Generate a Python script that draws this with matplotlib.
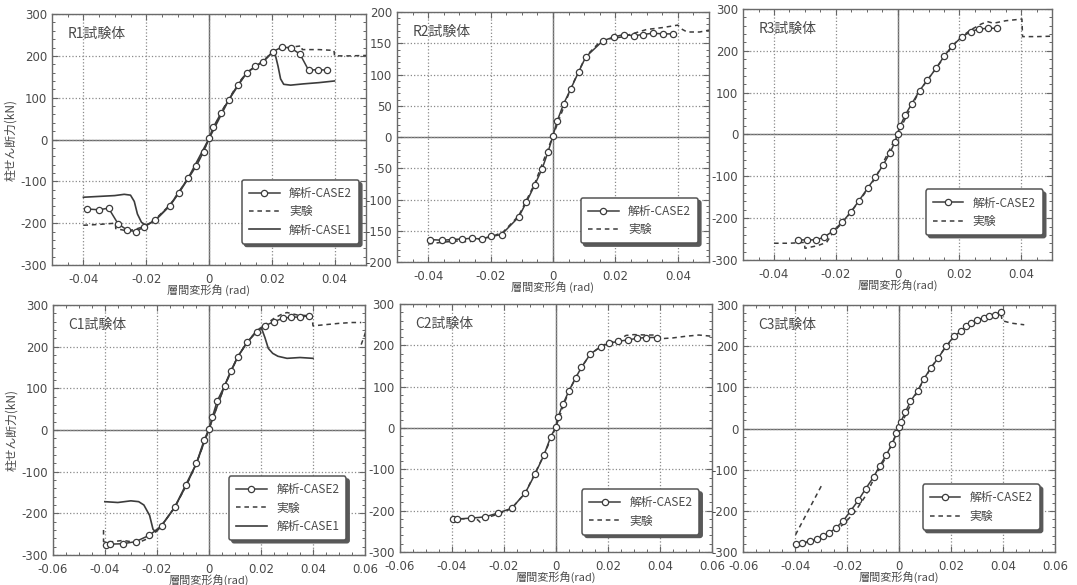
import numpy as np
import matplotlib.pyplot as plt
from matplotlib.ticker import MultipleLocator, FuncFormatter

plt.rcParams['font.family'] = ['DejaVu Sans', 'Noto Sans CJK JP']
plt.rcParams['axes.unicode_minus'] = False

JP = ['Noto Sans CJK JP', 'DejaVu Sans']
LINE_C = '#3c3c3c'
TEXT_C = '#4a4a4a'

nan = np.nan

# R1
r1_case2_x = [-0.039, -0.035, -0.032, -0.029, -0.026, -0.0233, -0.0207, -0.0171, -0.0124, -0.0096,
              -0.0066, -0.0041, -0.0017, 0.0, 0.0014, 0.0039, 0.0063, 0.0091, 0.012, 0.0148, 0.0173,
              0.0203, 0.0232, 0.0261, 0.029, 0.0317, 0.0347, 0.0376]
r1_case2_y = [-166, -168, -164, -201, -217, -220, -209, -193, -158, -128,
              -93, -64, -29, 3, 30, 64, 95, 130, 159, 176, 186,
              210, 221, 219, 204, 166, 167, 166]
r1_exp_x = [-0.040, -0.035, -0.0298, -0.0297, -0.027, -0.024, -0.022, -0.020, -0.017, -0.0124, -0.0096,
            -0.0066, -0.0041, -0.0017, 0.0, 0.0039, 0.0091, 0.012, 0.0173, 0.020, 0.023, 0.0295,
            0.0297, 0.035, 0.0398, 0.040, 0.045, 0.050]
r1_exp_y = [-205, -203, -200, -213, -217, -216, -211, -205, -190, -156, -126,
            -91, -62, -27, 3, 66, 132, 160, 188, 208, 218, 224,
            215, 215, 213, 200, 200, 201]
r1_case1_x = [-0.040, -0.035, -0.030, -0.027, -0.025, -0.0238, -0.0228, -0.0215, -0.020, -0.017, -0.0124,
              -0.0066, 0.0, 0.0063, 0.012, 0.0173, 0.0203, 0.0212, 0.022, 0.0228, 0.0238, 0.026,
              0.030, 0.035, 0.040]
r1_case1_y = [-138, -136, -134, -131, -133, -148, -178, -198, -205, -192, -157,
              -92, 2, 95, 160, 187, 209, 200, 175, 145, 132, 130,
              133, 136, 140]

# R2
r2_case2_x = [-0.0395, -0.0355, -0.0325, -0.0291, -0.0261, -0.0229, -0.0199, -0.0165, -0.011, -0.0085,
              -0.0059, -0.0035, -0.0016, 0.0, 0.0013, 0.0034, 0.0057, 0.0082, 0.0105, 0.016, 0.0195,
              0.0227, 0.0259, 0.0288, 0.032, 0.0354, 0.0384]
r2_case2_y = [-164, -165, -164, -163, -162, -163, -159, -156, -128, -104,
              -77, -51, -24, 2, 25, 53, 77, 104, 128, 154, 160,
              164, 162, 164, 166, 165, 165]
r2_exp_x = [-0.040, -0.035, -0.030, -0.027, -0.024, -0.020, -0.016, -0.011, -0.0059, 0.0, 0.0057,
            0.0105, 0.015, 0.018, 0.022, 0.026, 0.030, 0.035, 0.040, 0.0415, 0.043, 0.047, 0.050]
r2_exp_y = [-171, -168, -166, -168, -163, -160, -152, -126, -75, 2, 78,
            129, 152, 157, 160, 166, 172, 175, 179, 172, 168, 168, 171]

# R3
r3_case2_x = [-0.0324, -0.0293, -0.0265, -0.0239, -0.0208, -0.018, -0.0152, -0.0125, -0.0097, -0.0072,
              -0.0048, -0.0025, -0.0009, 0.0, 0.0008, 0.0024, 0.0046, 0.0071, 0.0096, 0.0124, 0.0151,
              0.0177, 0.0207, 0.0236, 0.0262, 0.0292, 0.032]
r3_case2_y = [-252, -252, -252, -246, -230, -210, -186, -158, -128, -102,
              -74, -44, -18, 2, 20, 46, 74, 105, 130, 158, 188,
              212, 233, 246, 252, 254, 254]
r3_exp_x = [-0.040, -0.035, -0.0302, -0.030, -0.026, -0.023, -0.021, -0.018, -0.0125, -0.0072, 0.0,
            0.0071, 0.0124, 0.0177, 0.0207, 0.0236, 0.027, 0.029, 0.031, 0.035, 0.0402, 0.0404,
            0.045, 0.050]
r3_exp_y = [-260, -260, -258, -272, -266, -258, -235, -212, -160, -104, 2,
            105, 158, 212, 234, 250, 264, 270, 266, 272, 276, 234,
            234, 235]

# C1
c1_case2_x = [-0.0395, -0.0382, -0.0331, -0.0282, -0.023, -0.0182, -0.0132, -0.0087, -0.0048, -0.0019,
              0.0, 0.0013, 0.0032, 0.006, 0.0084, 0.011, 0.0147, 0.0183, 0.0214, 0.025, 0.0283,
              0.0316, 0.0348, 0.0383]
c1_case2_y = [-275, -274, -273, -268, -253, -230, -186, -133, -80, -25,
              2, 31, 70, 106, 142, 175, 211, 236, 250, 260, 268,
              271, 271, 274]
c1_exp_x = [-0.0405, -0.0405, -0.037, -0.033, -0.030, -0.027, -0.024, -0.021, -0.018, -0.0132, -0.0087,
            -0.0048, 0.0, 0.006, 0.011, 0.0147, 0.0183, 0.0214, 0.025, 0.028, 0.030, 0.034,
            0.0395, 0.040, 0.045, 0.050, 0.055, 0.0585, nan, 0.0585, 0.0605]
c1_exp_y = [-240, -268, -268, -265, -268, -270, -262, -245, -228, -186, -133,
            -80, 2, 106, 175, 211, 238, 252, 268, 278, 282, 276,
            274, 250, 253, 256, 258, 258, nan, 205, 240]
c1_case1_x = [-0.040, -0.035, -0.030, -0.027, -0.025, -0.0228, -0.0215, -0.0205, -0.019, -0.0132,
              -0.0048, 0.0, 0.006, 0.011, 0.0147, 0.0183, 0.0201, 0.0215, 0.0228, 0.0245, 0.0265,
              0.030, 0.035, 0.040]
c1_case1_y = [-172, -174, -170, -172, -180, -205, -238, -245, -236, -186,
              -80, 2, 106, 175, 211, 236, 246, 222, 196, 184, 177,
              172, 174, 172]

# C2
c2_case2_x = [-0.0395, -0.0378, -0.0324, -0.0272, -0.0223, -0.0169, -0.0117, -0.0079, -0.0045, -0.0019,
              0.0, 0.0009, 0.0028, 0.005, 0.0076, 0.0099, 0.0133, 0.0173, 0.0206, 0.0241, 0.0277,
              0.0312, 0.0347, 0.039]
c2_case2_y = [-219, -220, -218, -215, -206, -194, -157, -111, -65, -21,
              2, 27, 58, 89, 121, 147, 179, 197, 205, 210, 213,
              217, 219, 219]
c2_exp_x = [-0.040, -0.035, -0.030, -0.029, -0.027, -0.022, -0.017, -0.0117, -0.0045, 0.0, 0.005,
            0.0099, 0.0133, 0.0173, 0.020, 0.024, 0.027, 0.030, 0.035, 0.039, 0.040, 0.045,
            0.050, 0.055, 0.060]
c2_exp_y = [-218, -220, -222, -228, -218, -208, -195, -157, -65, 2, 89,
            147, 179, 197, 206, 212, 224, 226, 225, 225, 216, 218,
            222, 225, 222]

# C3
c3_case2_x = [-0.0398, -0.0373, -0.0342, -0.0316, -0.0293, -0.027, -0.0244, -0.0215, -0.0187, -0.0157,
              -0.0129, -0.0099, -0.0076, -0.005, -0.0028, -0.0012, 0.0, 0.0006, 0.0023, 0.0043, 0.0071,
              0.0094, 0.012, 0.015, 0.018, 0.021, 0.0236, 0.0255, 0.0277, 0.03, 0.0324,
              0.0346, 0.0368, 0.039]
c3_case2_y = [-280, -278, -274, -268, -262, -254, -242, -224, -200, -174,
              -146, -118, -92, -64, -38, -12, 4, 16, 40, 66, 92,
              120, 146, 172, 200, 224, 236, 248, 256, 264, 269,
              274, 276, 282]
c3_exp_x = [-0.030, -0.0402, nan, -0.0402, -0.035, -0.030, -0.025, -0.021, -0.017, -0.013, -0.0099,
            -0.005, 0.0, 0.0071, 0.012, 0.018, 0.0236, 0.0277, 0.0324, 0.0368, 0.039, 0.0395,
            0.043, 0.048]
c3_exp_y = [-140, -262, nan, -282, -276, -266, -250, -230, -202, -164, -124,
            -68, 2, 92, 146, 200, 236, 256, 269, 277, 282, 262,
            256, 252]

panels = [
    dict(name='R1試験体', pos=[0.0483, 0.547, 0.2915, 0.429], xlim=(-0.05, 0.05), ylim=(-300, 300),
         ymaj=100, ymin=20, case2=(r1_case2_x, r1_case2_y), exp=(r1_exp_x, r1_exp_y),
         case1=(r1_case1_x, r1_case1_y), ylabel=True, leg=(0.978, 0.085), xlabel='層間変形角 (rad)'),
    dict(name='R2試験体', pos=[0.3686, 0.552, 0.2897, 0.4275], xlim=(-0.05, 0.05), ylim=(-200, 200),
         ymaj=50, ymin=10, case2=(r2_case2_x, r2_case2_y), exp=(r2_exp_x, r2_exp_y),
         case1=None, ylabel=False, leg=(0.965, 0.075), xlabel='層間変形角 (rad)'),
    dict(name='R3試験体', pos=[0.690, 0.5556, 0.287, 0.429], xlim=(-0.05, 0.05), ylim=(-300, 300),
         ymaj=100, ymin=20, case2=(r3_case2_x, r3_case2_y), exp=(r3_exp_x, r3_exp_y),
         case1=None, ylabel=False, leg=(0.97, 0.10), xlabel='層間変形角(rad)'),
    dict(name='C1試験体', pos=[0.049, 0.0513, 0.290, 0.4273], xlim=(-0.06, 0.06), ylim=(-300, 300),
         ymaj=100, ymin=20, case2=(c1_case2_x, c1_case2_y), exp=(c1_exp_x, c1_exp_y),
         case1=(c1_case1_x, c1_case1_y), ylabel=True, leg=(0.94, 0.06), xlabel='層間変形角(rad)'),
    dict(name='C2試験体', pos=[0.371, 0.0564, 0.290, 0.4239], xlim=(-0.06, 0.06), ylim=(-300, 300),
         ymaj=100, ymin=20, case2=(c2_case2_x, c2_case2_y), exp=(c2_exp_x, c2_exp_y),
         case1=None, ylabel=False, leg=(0.96, 0.07), xlabel='層間変形角(rad)'),
    dict(name='C3試験体', pos=[0.690, 0.0564, 0.290, 0.4222], xlim=(-0.06, 0.06), ylim=(-300, 300),
         ymaj=100, ymin=20, case2=(c3_case2_x, c3_case2_y), exp=(c3_exp_x, c3_exp_y),
         case1=None, ylabel=False, leg=(0.95, 0.09), xlabel='層間変形角(rad)'),
]


def xfmt(v, pos):
    return '0' if abs(v) < 1e-9 else f'{v:.2f}'


fig = plt.figure(figsize=(10.77, 5.85), dpi=100)

for p in panels:
    ax = fig.add_axes(p['pos'])
    ax.set_xlim(*p['xlim'])
    ax.set_ylim(*p['ylim'])
    ax.xaxis.set_major_locator(MultipleLocator(0.02))
    ax.xaxis.set_minor_locator(MultipleLocator(0.005))
    ax.yaxis.set_major_locator(MultipleLocator(p['ymaj']))
    ax.yaxis.set_minor_locator(MultipleLocator(p['ymin']))
    ax.xaxis.set_major_formatter(FuncFormatter(xfmt))
    ax.tick_params(which='both', direction='in', top=True, right=True, colors='#666666',
                   labelcolor=TEXT_C, labelsize=8.5)
    ax.tick_params(which='major', length=4, width=0.8)
    ax.tick_params(axis='x', which='major', pad=5.5)
    ax.tick_params(axis='y', which='major', pad=3.5)
    ax.tick_params(which='minor', length=2.5, width=0.7)
    for s in ax.spines.values():
        s.set_color('#6a6a6a')
        s.set_linewidth(1.0)
    ax.grid(which='major', linestyle=':', color='#8a8a8a', linewidth=0.9)
    ax.axhline(0, color='#6a6a6a', lw=1.0, zorder=1)
    ax.axvline(0, color='#6a6a6a', lw=1.0, zorder=1)

    h2, = ax.plot(*p['case2'], color=LINE_C, lw=1.1, marker='o', ms=4.5,
                  mfc='white', mec=LINE_C, mew=0.9, label='解析-CASE2', zorder=4)
    he, = ax.plot(*p['exp'], color=LINE_C, lw=1.1, ls=(0, (3, 2.5)), label='実験', zorder=3)
    handles = [h2, he]
    if p['case1'] is not None:
        h1, = ax.plot(*p['case1'], color=LINE_C, lw=1.2, label='解析-CASE1', zorder=3)
        handles.append(h1)

    ax.text(0.05, 0.92, p['name'], transform=ax.transAxes, fontsize=10, color=TEXT_C,
            family=JP, va='center', ha='left')
    ax.set_xlabel(p['xlabel'], fontsize=8, color=TEXT_C, family=JP, labelpad=-1)
    if p['ylabel']:
        ax.set_ylabel('柱せん断力(kN)', fontsize=8.5, color=TEXT_C, family=JP)
        ax.yaxis.set_label_coords(-0.11, 0.5)

    leg = ax.legend(handles=handles, loc='lower right', bbox_to_anchor=p['leg'],
                    prop={'family': JP, 'size': 8.5}, frameon=True, fancybox=True,
                    shadow={'color': '0.35', 'alpha': 1}, framealpha=1, edgecolor='#555555',
                    handlelength=2.6, borderpad=0.6, labelspacing=0.45, borderaxespad=0)
    leg.get_frame().set_linewidth(1.1)
    for t in leg.get_texts():
        t.set_color(TEXT_C)

fig.savefig('out.png', dpi=100)
